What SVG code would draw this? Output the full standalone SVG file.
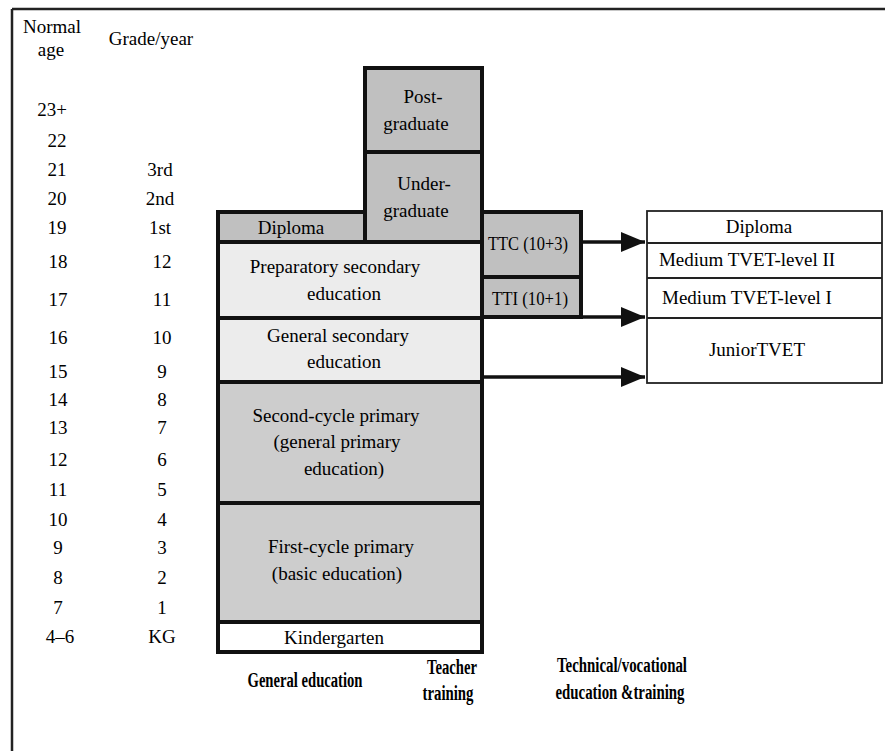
<svg xmlns="http://www.w3.org/2000/svg" width="885" height="751" viewBox="0 0 885 751" font-family="Liberation Serif, Times New Roman, serif">
<style>
  text { font-size: 19px; fill: #000; }
  .c { text-anchor: middle; }
  .b { font-weight: bold; font-size: 20px; }
  .box { stroke: #111; stroke-width: 4; }
  .hi { fill: #c0c0c0; }
  .sec { fill: #ececec; }
  .pri { fill: #cdcdcd; }
  .wh { fill: #ffffff; }
  .tv { fill: #ffffff; stroke: #222; stroke-width: 1.8; }
  .conn { stroke: #111; stroke-width: 3.5; fill: none; }
</style>
<defs>
  <marker id="ah" markerWidth="26" markerHeight="22" refX="24" refY="10" orient="auto" markerUnits="userSpaceOnUse">
    <polygon points="0,0 24,10 0,20" fill="#111"/>
  </marker>
</defs>
<rect x="0" y="0" width="885" height="751" fill="#ffffff"/>
<g id="frame">
  <line x1="12" y1="9" x2="885" y2="9" stroke="#222" stroke-width="2.5"/>
  <line x1="12" y1="9" x2="12" y2="751" stroke="#222" stroke-width="2.5"/>
</g>
<g id="axis-labels">
  <text class="c" x="52" y="33">Normal</text>
  <text class="c" x="51" y="56">age</text>
  <text class="c" x="151" y="45">Grade/year</text>
  <text class="c" x="52" y="116">23+</text>
  <text class="c" x="57" y="147">22</text>
  <text class="c" x="57" y="176">21</text>
  <text class="c" x="57" y="205">20</text>
  <text class="c" x="57" y="234">19</text>
  <text class="c" x="58" y="268">18</text>
  <text class="c" x="58" y="306">17</text>
  <text class="c" x="58" y="344">16</text>
  <text class="c" x="58" y="378">15</text>
  <text class="c" x="58" y="406">14</text>
  <text class="c" x="58" y="434">13</text>
  <text class="c" x="58" y="466">12</text>
  <text class="c" x="58" y="496">11</text>
  <text class="c" x="58" y="526">10</text>
  <text class="c" x="58" y="554">9</text>
  <text class="c" x="58" y="584">8</text>
  <text class="c" x="58" y="614">7</text>
  <text class="c" x="60" y="643">4–6</text>
  <text class="c" x="160" y="176">3rd</text>
  <text class="c" x="160" y="205">2nd</text>
  <text class="c" x="160" y="234">1st</text>
  <text class="c" x="162" y="268">12</text>
  <text class="c" x="162" y="306">11</text>
  <text class="c" x="162" y="344">10</text>
  <text class="c" x="162" y="378">9</text>
  <text class="c" x="162" y="406">8</text>
  <text class="c" x="162" y="434">7</text>
  <text class="c" x="162" y="466">6</text>
  <text class="c" x="162" y="496">5</text>
  <text class="c" x="162" y="526">4</text>
  <text class="c" x="162" y="554">3</text>
  <text class="c" x="162" y="584">2</text>
  <text class="c" x="162" y="614">1</text>
  <text class="c" x="162" y="643">KG</text>
</g>
<g id="connectors">
  <line class="conn" x1="581" y1="242" x2="645" y2="242" marker-end="url(#ah)"/>
  <line class="conn" x1="482" y1="317" x2="645" y2="317" marker-end="url(#ah)"/>
  <line class="conn" x1="482" y1="377" x2="645" y2="377" marker-end="url(#ah)"/>
</g>
<g id="postgraduate">
  <rect class="box hi" x="365" y="68" width="117" height="84"/>
  <text class="c" x="423" y="103">Post-</text>
  <text class="c" x="416" y="130">graduate</text>
</g>
<g id="undergraduate">
  <rect class="box hi" x="365" y="152" width="117" height="90"/>
  <text class="c" x="424" y="190">Under-</text>
  <text class="c" x="416" y="217">graduate</text>
</g>
<g id="diploma">
  <rect class="box hi" x="218" y="212" width="147" height="30"/>
  <text class="c" x="291" y="234">Diploma</text>
</g>
<g id="preparatory-secondary">
  <rect class="box sec" x="218" y="242" width="264" height="76"/>
  <text class="c" x="335" y="273">Preparatory secondary</text>
  <text class="c" x="344" y="300">education</text>
</g>
<g id="general-secondary">
  <rect class="box sec" x="218" y="318" width="264" height="64"/>
  <text class="c" x="338" y="342">General secondary</text>
  <text class="c" x="344" y="368">education</text>
</g>
<g id="second-cycle-primary">
  <rect class="box pri" x="218" y="382" width="264" height="121"/>
  <text class="c" x="336" y="422">Second-cycle primary</text>
  <text class="c" x="337" y="448">(general primary</text>
  <text class="c" x="344" y="475">education)</text>
</g>
<g id="first-cycle-primary">
  <rect class="box pri" x="218" y="503" width="264" height="119"/>
  <text class="c" x="341" y="553">First-cycle primary</text>
  <text class="c" x="337" y="580">(basic education)</text>
</g>
<g id="kindergarten">
  <rect class="box wh" x="218" y="622" width="264" height="30"/>
  <text class="c" x="334" y="644">Kindergarten</text>
</g>
<g id="ttc">
  <rect class="box hi" x="482" y="212" width="99" height="65"/>
  <text class="c" x="528" y="250" font-size="16" textLength="80" lengthAdjust="spacingAndGlyphs">TTC (10+3)</text>
</g>
<g id="tti">
  <rect class="box hi" x="482" y="277" width="99" height="40"/>
  <text class="c" x="530" y="305" font-size="16" textLength="76" lengthAdjust="spacingAndGlyphs">TTI (10+1)</text>
</g>
<g id="tvet">
  <rect class="tv" x="647" y="211" width="235" height="172"/>
  <line x1="647" y1="243" x2="882" y2="243" stroke="#222" stroke-width="1.8"/>
  <line x1="647" y1="278" x2="882" y2="278" stroke="#222" stroke-width="1.8"/>
  <line x1="647" y1="318" x2="882" y2="318" stroke="#222" stroke-width="1.8"/>
  <text class="c" x="759" y="233">Diploma</text>
  <text class="c" x="747" y="266">Medium TVET-level II</text>
  <text class="c" x="747" y="304">Medium TVET-level I</text>
  <text class="c" x="757" y="356">JuniorTVET</text>
</g>
<g id="column-labels">
  <text class="c b" x="305" y="687" textLength="115" lengthAdjust="spacingAndGlyphs">General education</text>
  <text class="c b" x="452" y="674" textLength="50" lengthAdjust="spacingAndGlyphs">Teacher</text>
  <text class="c b" x="448" y="700" textLength="51" lengthAdjust="spacingAndGlyphs">training</text>
  <text class="c b" x="622" y="672" textLength="130" lengthAdjust="spacingAndGlyphs">Technical/vocational</text>
  <text class="c b" x="620" y="699" textLength="129" lengthAdjust="spacingAndGlyphs">education &amp;training</text>
</g>
</svg>
